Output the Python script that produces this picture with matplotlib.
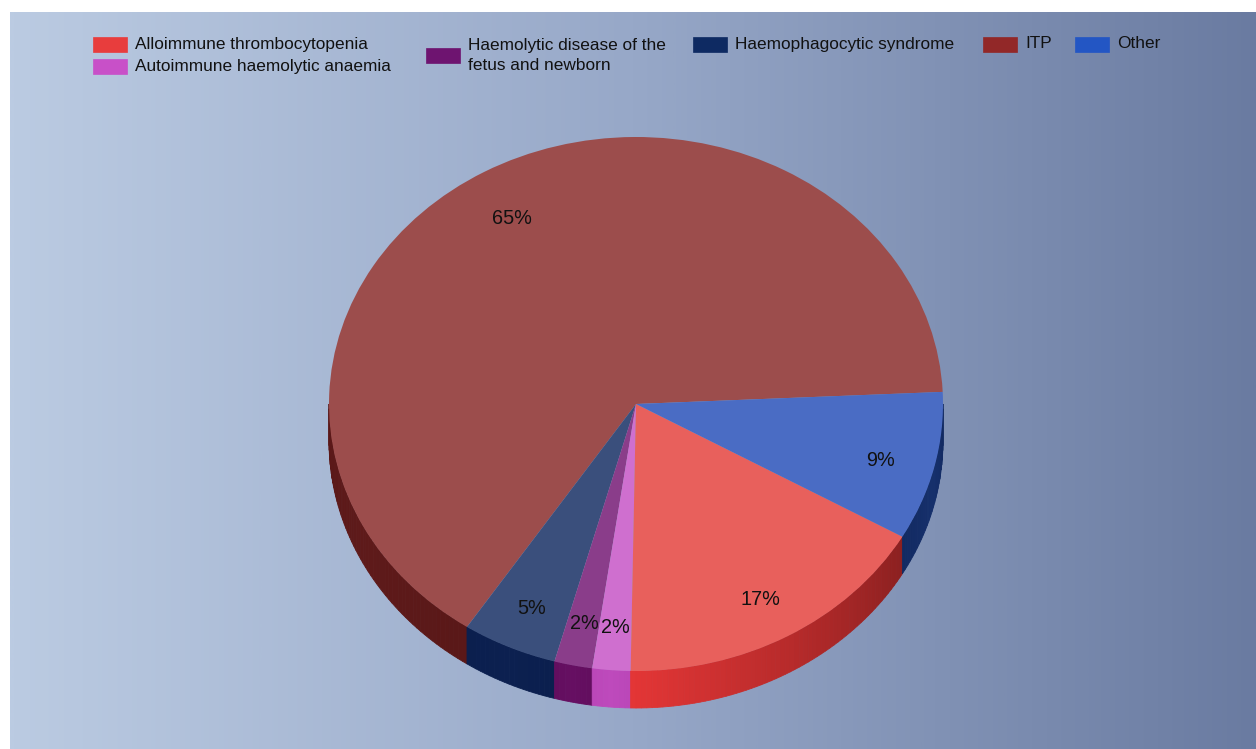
import numpy as np
import matplotlib
matplotlib.use('Agg')
import matplotlib.pyplot as plt
from matplotlib.patches import Polygon, Rectangle
from matplotlib.colors import to_rgb, LinearSegmentedColormap

# category data
labels = ['Alloimmune thrombocytopenia', 'Autoimmune haemolytic anaemia',
          'Haemolytic disease of the\nfetus and newborn', 'Haemophagocytic syndrome',
          'ITP', 'Other']
shares = [17, 2, 2, 5, 65, 9]

# colours per category
legend_colors = ['#E83D3D', '#C850C8', '#6E1470', '#0E2A62', '#922828', '#2356C4']
top_colors = ['#E8605C', '#CF6FCF', '#8A3D8A', '#3A4F7C', '#9C4D4C', '#4A6CC4']
side_colors = ['#E43636', '#BE4ABC', '#660F62', '#0C2050', '#5E1A1A', '#16306C']
side_dark = ['#8C2020', '#BA46B8', '#620E5E', '#0B1F4E', '#5A1818', '#122A62']

# slices go counterclockwise starting with ITP
pie_order = [4, 3, 2, 1, 0, 5]

W, H = 1256, 749
fig = plt.figure(figsize=(W / 100, H / 100), dpi=100)
fig.patch.set_facecolor('white')

# gradient background
bg = fig.add_axes([10 / W, 0, (W - 10) / W, (H - 12) / H])
grad = LinearSegmentedColormap.from_list('bg', ['#BBCBE2', '#97A8C8', '#6A7BA1'])
bg.imshow(np.linspace(0, 1, 512)[None, :], aspect='auto', cmap=grad,
          extent=(0, 1, 0, 1))
bg.set_axis_off()

# pie axes: one x unit = rx pixels, one y unit = ry pixels -> elliptical pie
cx, cy, rx, ry, depth = 636, 404, 307, 267, 37
ax = fig.add_axes([0, 0, 1, 1])
ax.patch.set_alpha(0)

vals = [shares[i] for i in pie_order]
wedges, texts, autotexts = ax.pie(
    vals, colors=[top_colors[i] for i in pie_order], startangle=2.6,
    counterclock=True, autopct='%.0f%%', pctdistance=0.82,
    wedgeprops=dict(linewidth=0, zorder=3),
    textprops=dict(fontsize=14.3, color='#111111', family='Liberation Sans'))
# labels sit a little lower on the tilted face
for t in autotexts:
    x, y = t.get_position()
    t.set_position((x, y - 0.02))
    t.set_zorder(5)

ax.set_aspect('auto')
ax.set_xlim(-cx / rx, (W - cx) / rx)
ax.set_ylim(-(H - cy) / ry, cy / ry)
ax.set_axis_off()

# side walls of the front half
d = depth / ry
for w, idx in zip(wedges, pie_order):
    a1, a2 = w.theta1, w.theta2
    lo, hi = max(a1, 180), min(a2, 360)
    if hi <= lo:
        continue
    c0 = np.array(to_rgb(side_colors[idx]))
    c1 = np.array(to_rgb(side_dark[idx]))
    steps = max(int((hi - lo) / 1.0), 1)
    ts = np.linspace(lo, hi, steps + 1)
    for k in range(steps):
        t0, t1 = np.radians(ts[k]), np.radians(ts[k + 1])
        frac = ((ts[k] + ts[k + 1]) / 2 - lo) / max(hi - lo, 1e-9)
        if idx == 0:
            col = c0 + (c1 - c0) * frac
        else:
            col = c0 + (c1 - c0) * abs(frac - 0.5) * 2
        pts = [(np.cos(t0), np.sin(t0)), (np.cos(t1), np.sin(t1)),
               (np.cos(t1), np.sin(t1) - d), (np.cos(t0), np.sin(t0) - d)]
        ax.add_patch(Polygon(pts, closed=True, facecolor=col, edgecolor=col,
                             linewidth=0.6, zorder=2))

# legend drawn in pixel coordinates
lg = fig.add_axes([0, 0, 1, 1])
lg.patch.set_alpha(0)
lg.set_xlim(0, W)
lg.set_ylim(H, 0)
lg.set_axis_off()

legend_pos = [(93, 44), (93, 66.5), (426, 55.5), (693, 44), (983, 44), (1075, 44)]
for (x, y), lab, col in zip(legend_pos, labels, legend_colors):
    lg.add_patch(Rectangle((x, y - 7.5), 34, 15, facecolor=col,
                           edgecolor=col, linewidth=0.5))
    lg.text(x + 42, y, lab, fontsize=12.4, family='Liberation Sans',
            color='#111111', va='center', ha='left', linespacing=1.42)

fig.savefig('out.png', dpi=100)
